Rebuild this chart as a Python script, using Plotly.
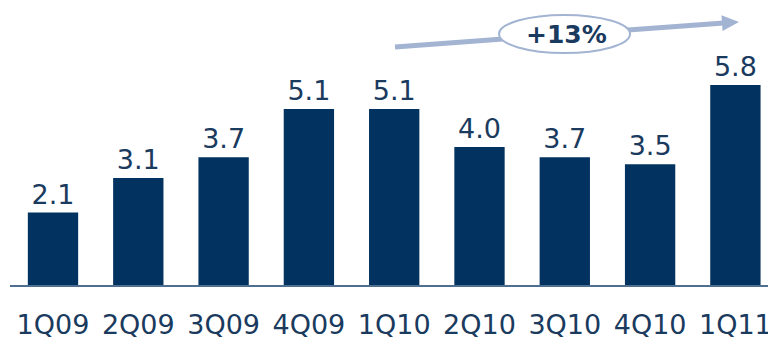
import math
import plotly.graph_objects as go

quarters = ["1Q09", "2Q09", "3Q09", "4Q09", "1Q10", "2Q10", "3Q10", "4Q10", "1Q11"]
values = [2.1, 3.1, 3.7, 5.1, 5.1, 4.0, 3.7, 3.5, 5.8]
growth_label = "+13%"

NAVY = "#02325f"
TEXT = "#1a3a5e"
ARROW = "#a2b4d2"
FONT = "DejaVu Sans"

# the page body has an 8px margin, so the figure is offset by 8px
OFF = 8
W, H = 776 - OFF, 340 - OFF
PL, PR, PT, PB = 10 - OFF, 776 - OFF, 0, 285 - OFF  # plot area in figure pixels


def px(x):  # reference-page pixel x -> paper
    return (x - OFF - PL) / (PR - PL)


def py(y):  # reference-page pixel y -> paper
    return (PB - (y - OFF)) / (PB - PT)


fig = go.Figure()
fig.add_trace(go.Bar(
    x=quarters, y=values, width=0.59,
    marker=dict(color=NAVY, line=dict(width=0)),
    text=[f"{v:.1f}" for v in values], textposition="outside",
    textfont=dict(family=FONT, size=27, color=TEXT),
    cliponaxis=False,
))

# arrow line
x0, y0, x1, y1 = 395, 47, 724, 23
tipx, tipy = 739, 22
fig.add_shape(type="line", xref="paper", yref="paper",
              x0=px(x0), y0=py(y0), x1=px(x1), y1=py(y1),
              line=dict(color=ARROW, width=5))
# arrowhead
dx, dy = tipx - x1, tipy - y1
L = math.hypot(dx, dy)
nx, ny = -dy / L, dx / L
hw = 8
bx, by = x1 - 2 * dx / L, y1 - 2 * dy / L
path = (f"M {px(tipx)},{py(tipy)} L {px(bx + nx*hw)},{py(by + ny*hw)} "
        f"L {px(bx - nx*hw)},{py(by - ny*hw)} Z")
fig.add_shape(type="path", xref="paper", yref="paper", path=path,
              fillcolor=ARROW, line=dict(width=0))
# ellipse
fig.add_shape(type="circle", xref="paper", yref="paper",
              x0=px(499), x1=px(630), y0=py(53), y1=py(15),
              fillcolor="white", line=dict(color=ARROW, width=2))
fig.add_annotation(xref="paper", yref="paper", x=px(566), y=py(34),
                   text=f"<b>{growth_label}</b>", showarrow=False,
                   font=dict(family=FONT, size=25, color=TEXT),
                   xanchor="center", yanchor="middle")

fig.update_layout(
    width=W, height=H,
    margin=dict(l=PL, r=W - PR, t=PT, b=H - PB, autoexpand=False),
    paper_bgcolor="white", plot_bgcolor="white",
    showlegend=False, bargap=0.4,
    xaxis=dict(range=[-0.504, 8.476], showline=True, linecolor="#4f6f90", linewidth=2,
               showgrid=False, ticks="", ticklabelstandoff=15, automargin=False,
               tickfont=dict(family=FONT, size=27, color=TEXT)),
    yaxis=dict(range=[0, PB / 34.5], visible=False, showgrid=False, automargin=False),
)

fig.write_html("out.html")
